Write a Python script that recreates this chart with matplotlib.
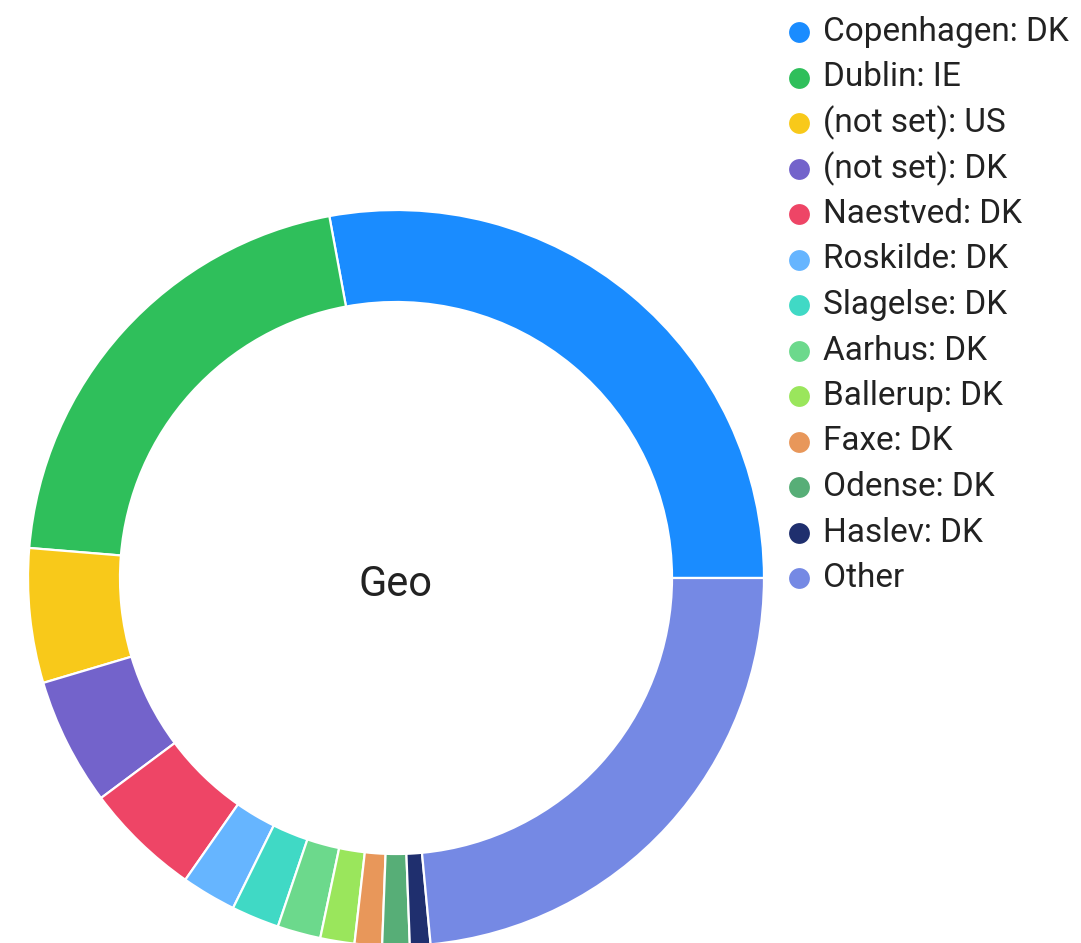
import matplotlib
matplotlib.use("Agg")
import matplotlib.pyplot as plt
from matplotlib.lines import Line2D

plt.rcParams['font.family'] = ['Roboto', 'DejaVu Sans']

labels = ["Copenhagen: DK", "Dublin: IE", "(not set): US", "(not set): DK",
          "Naestved: DK", "Roskilde: DK", "Slagelse: DK", "Aarhus: DK",
          "Ballerup: DK", "Faxe: DK", "Odense: DK", "Haslev: DK", "Other"]
shares = [27.9, 20.8, 5.9, 5.6, 5.1, 2.4, 2.1, 1.9, 1.5, 1.2, 1.2, 0.9, 23.5]
colors = ["#1A8CFF", "#2FBF5B", "#F8C91A", "#7363CB", "#EE4566", "#66B5FF",
          "#40D9C5", "#6CD98C", "#9AE65C", "#E8975A", "#57AE77", "#1F2F6E",
          "#7589E4"]
center_label = "Geo"

W, H = 1081, 943
fig = plt.figure(figsize=(W / 100, H / 100), dpi=100)
ax = fig.add_axes([0, 0, 1, 1])

R = 368.0
cx, cy = 396.0, 578.0
ax.pie(shares, colors=colors, startangle=0, counterclock=True, radius=1.0,
       wedgeprops=dict(width=92 / R, edgecolor="white", linewidth=1.6))
ax.set_aspect("auto")
ax.set_xlim(-cx / R, (W - cx) / R)
ax.set_ylim(-(H - cy) / R, cy / R)
ax.axis("off")

ax.text(0, -7 / R, center_label, ha="center", va="center", fontsize=30,
        color="#222222")

# legend
x_dot, x_txt = 799, 823
y0, dy = 32, 45.5
for i, (lab, col) in enumerate(zip(labels, colors)):
    y = 1 - (y0 + dy * i) / H
    fig.add_artist(Line2D([x_dot / W], [y], marker="o", markersize=15,
                          color=col, markeredgewidth=0,
                          transform=fig.transFigure))
    fig.text(x_txt / W, y, lab, ha="left", va="center", fontsize=24,
             color="#222222")

fig.savefig("out.png", dpi=100)
